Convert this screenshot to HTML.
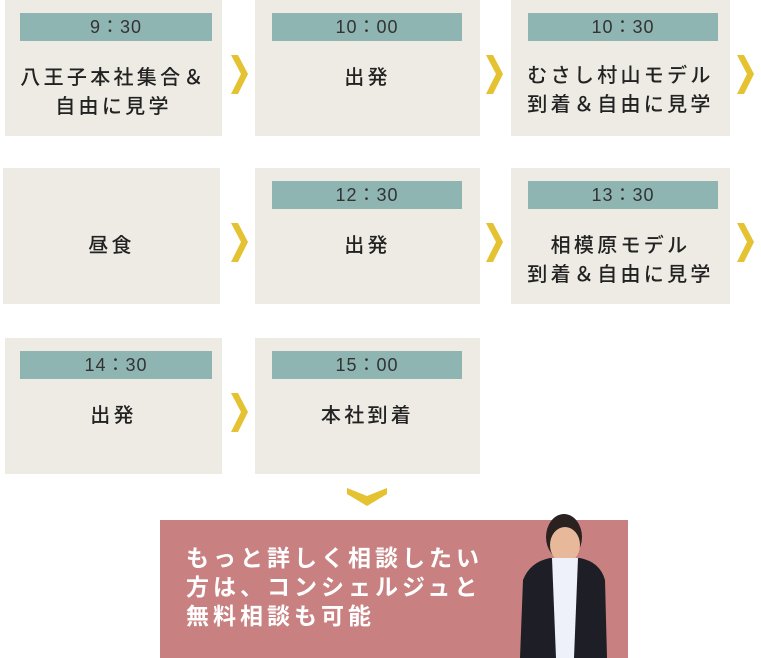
<!DOCTYPE html><html><head><meta charset="utf-8"><style>
body{margin:0;width:761px;height:658px;background:#fff;position:relative;overflow:hidden;font-family:"Liberation Sans","Noto Sans CJK JP",sans-serif}
.b{position:absolute;background:#eeebe4;height:136px}
.l{position:absolute;left:15px;right:10px;top:13px;height:28px;background:#8fb5b3;color:#333;font-size:18px;line-height:28px;text-align:center;letter-spacing:1px}
.t{position:absolute;left:0;right:0;color:#222;font-size:20px;line-height:29px;text-align:center;letter-spacing:3.3px;font-weight:500}
</style></head><body>
<div class="b" style="left:5px;top:0;width:217px"><div class="l">9：30</div><div class="t" style="top:64px">八王子本社集合＆<br>自由に見学</div></div>
<div class="b" style="left:255px;top:0;width:225px"><div class="l" style="left:17px;right:18px">10：00</div><div class="t" style="top:64px">出発</div></div>
<div class="b" style="left:511px;top:0;width:219px"><div class="l" style="left:17px;right:12px">10：30</div><div class="t" style="top:62px">むさし村山モデル<br>到着＆自由に見学</div></div>
<div class="b" style="left:3px;top:168px;width:217px"><div class="t" style="top:64px">昼食</div></div>
<div class="b" style="left:255px;top:168px;width:225px"><div class="l" style="left:17px;right:18px">12：30</div><div class="t" style="top:64px">出発</div></div>
<div class="b" style="left:511px;top:168px;width:219px"><div class="l" style="left:17px;right:12px">13：30</div><div class="t" style="top:64px">相模原モデル<br>到着＆自由に見学</div></div>
<div class="b" style="left:5px;top:338px;width:217px"><div class="l">14：30</div><div class="t" style="top:64px">出発</div></div>
<div class="b" style="left:255px;top:338px;width:225px"><div class="l" style="left:17px;right:18px">15：00</div><div class="t" style="top:64px">本社到着</div></div>
<svg width="761" height="658" style="position:absolute;left:0;top:0">
<g fill="#e4c231">
<path id="ch" d="M231 55h7l10 19-10 20h-7l10-20z"/>
<use href="#ch" x="255"/><use href="#ch" x="506"/>
<use href="#ch" y="168"/><use href="#ch" x="255" y="168"/><use href="#ch" x="506" y="168"/>
<use href="#ch" y="338"/>
<path d="M347 488l20 8 20-8v6l-20 12-20-12z"/>
</g>
<rect x="160" y="520" width="468" height="138" fill="#c88080"/>
<g>
<ellipse cx="564" cy="537" rx="18" ry="23" fill="#2a2220"/>
<ellipse cx="565" cy="545" rx="15" ry="18" fill="#e8b89a"/>
<path d="M520 658 L523 580 Q530 562 550 558 L580 558 Q600 562 605 580 L607 658 Z" fill="#1e1f26"/>
<path d="M552 558 L578 558 L574 658 L556 658 Z" fill="#eef0fa"/>
</g>
</svg>
<div style="position:absolute;left:186px;top:544px;color:#fff;font-size:23px;line-height:29px;letter-spacing:4px;font-weight:bold">もっと詳しく相談したい<br>方は、コンシェルジュと<br>無料相談も可能</div>
</body></html>
